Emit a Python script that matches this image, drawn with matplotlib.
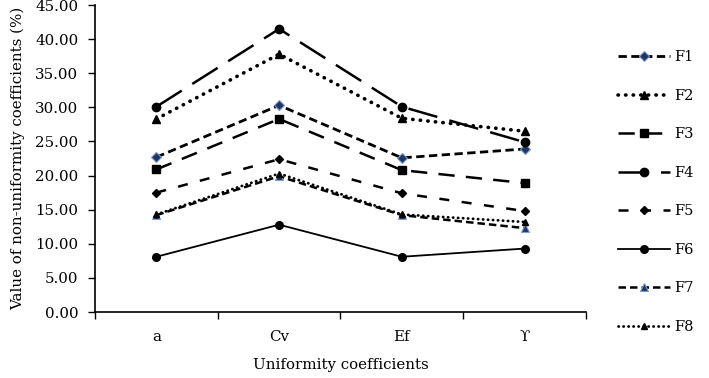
import numpy as np
import matplotlib
matplotlib.use("Agg")
import matplotlib.pyplot as plt
from matplotlib.ticker import FixedLocator, NullFormatter

categories = ["a", "Cv", "Ef", "ϒ"]
series = ["F1", "F2", "F3", "F4", "F5", "F6", "F7", "F8"]

F1 = [22.7, 30.3, 22.6, 23.9]
F2 = [28.3, 37.8, 28.4, 26.5]
F3 = [20.9, 28.3, 20.8, 18.9]
F4 = [30.1, 41.5, 30.1, 24.9]
F5 = [17.5, 22.4, 17.4, 14.8]
F6 = [8.1, 12.8, 8.1, 9.3]
F7 = [14.2, 19.9, 14.2, 12.3]
F8 = [14.3, 20.3, 14.3, 13.2]

plt.rcParams['font.family'] = ['DejaVu Serif']
plt.rcParams['font.size'] = 10.8

navy = '#1f3566'; navy_edge = '#7a9cc8'

styles = {
    "F1": dict(ls=(0, (3, 1.6)), lw=2.0, marker='D', ms=5.5, mfc=navy, mec=navy_edge, mew=0.8),
    "F2": dict(ls=(0, (0.1, 2.0)), lw=2.6, dash_capstyle='round', marker='^', ms=5.5, mfc='k', mec='k'),
    "F3": dict(ls=(0, (6.5, 4.5)), lw=1.8, marker='s', ms=6, mfc='k', mec='k'),
    "F4": dict(ls=(0, (12, 5)), lw=1.8, marker='o', ms=6, mfc='k', mec='k'),
    "F5": dict(ls=(0, (4, 5)), lw=1.8, marker='D', ms=4, mfc='k', mec='k'),
    "F6": dict(ls='-', lw=1.3, marker='o', ms=5.5, mfc='k', mec='k'),
    "F7": dict(ls=(0, (3, 1.6)), lw=1.8, marker='^', ms=5.5, mfc=navy, mec=navy_edge, mew=0.8),
    "F8": dict(ls=(0, (0.1, 1.7)), lw=2.0, dash_capstyle='round', marker='^', ms=5, mfc='k', mec='k'),
}
values = dict(F1=F1, F2=F2, F3=F3, F4=F4, F5=F5, F6=F6, F7=F7, F8=F8)

fig = plt.figure(figsize=(7.09, 3.78), dpi=100)
ax = fig.add_axes([0.134, 0.1746, 0.6925, 0.812])

x = np.arange(len(categories))
handles = []
for name in series:
    h, = ax.plot(x, values[name], color='k', label=name, **styles[name])
    handles.append(h)

ax.set_xlim(-0.5, 3.5)
ax.set_ylim(0, 45)
ax.set_yticks(np.arange(0, 46, 5))
ax.set_yticklabels(["%.2f" % v for v in np.arange(0, 46, 5)])
ax.xaxis.set_major_locator(FixedLocator([-0.5, 0.5, 1.5, 2.5, 3.5]))
ax.xaxis.set_major_formatter(NullFormatter())
ax.xaxis.set_minor_locator(FixedLocator(x))
ax.set_xticklabels(categories, minor=True)
ax.tick_params(axis='x', which='major', direction='out', length=5, width=1)
ax.tick_params(axis='x', which='minor', length=0, pad=13)
ax.tick_params(axis='y', direction='out', length=5, width=1, pad=7)
for s in ['top', 'right']:
    ax.spines[s].set_visible(False)
for s in ['left', 'bottom']:
    ax.spines[s].set_linewidth(1.2)

ax.set_xlabel("Uniformity coefficients", labelpad=10)
ax.set_ylabel("Value of non-uniformity coefficients (%)", labelpad=7)

fig.legend(handles=handles, loc='center left', bbox_to_anchor=(0.862, 0.492),
           frameon=False, handlelength=3.55, labelspacing=1.68, handletextpad=0.25,
           borderpad=0, fontsize=10.5)

fig.savefig("out.png", dpi=100)
